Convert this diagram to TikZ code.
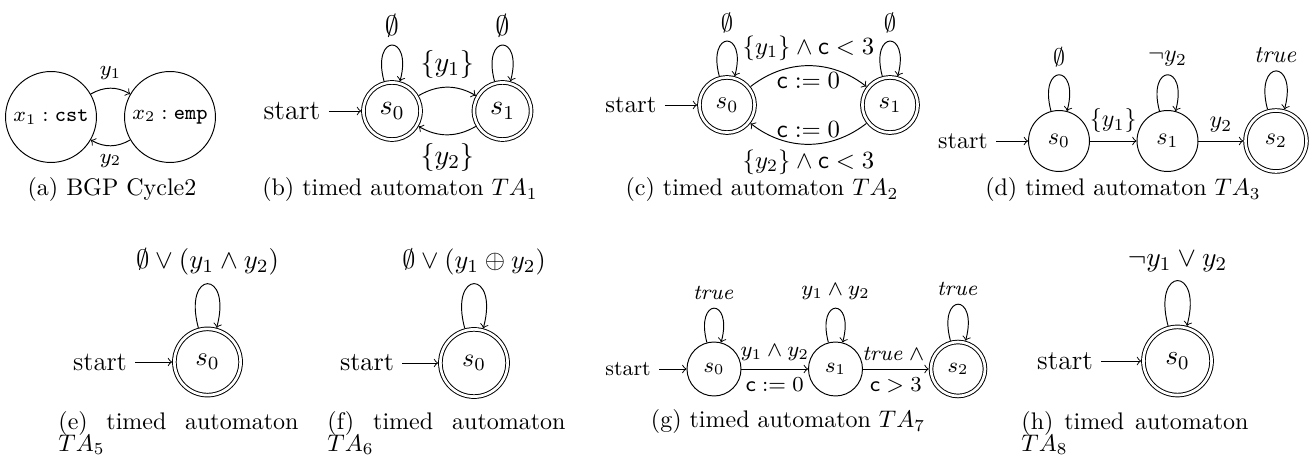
\RequirePackage{fix-cm}
\documentclass[tikz,border=0pt]{standalone}
\begin{document}
\begin{tikzpicture}[x=0.41667pt,y=0.41667pt,line width=0.4pt,
  st/.style={circle,draw,inner sep=0pt},
  acc/.style={st,double,double distance=1.1pt,outer sep=0.95pt},
  capt/.style={font=\fontsize{10}{12}\selectfont, inner sep=0pt},
  capj/.style={inner sep=0pt, text width=#1, align=justify, anchor=north west,
    font={\fontsize{10}{9}\selectfont\lineskiplimit=-10pt\tolerance=10000\hyphenpenalty=10000\parindent=0pt}},
  lp/.style={out=105,in=75,looseness=#1}]
\fill[white] (0,0) rectangle (1313,-458);
\path[use as bounding box] (0,0) rectangle (1313,-458);

% (a)
\begin{scope}[font=\fontsize{8.8}{10}\selectfont]
\node[st,minimum size=37.9pt] (a1) at (51,-117) {$x_1:\mathtt{cst}$};
\node[st,minimum size=37.9pt] (a2) at (170,-117) {$x_2:\mathtt{emp}$};
\draw[->] (a1) to[bend left=30] node[above] (ay1) {$y_1$} (a2);
\draw[->] (a2) to[bend left=30] node[below] (ay2) {$y_2$} (a1);
\end{scope}
\node[capt,anchor=base] (capa) at (112,-196) {(a) BGP Cycle2};

% (b)
\begin{scope}[font=\fontsize{11.7}{14}\selectfont]
\node[acc,minimum size=23.8pt] (b0) at (392,-111) {$s_0$};
\node[acc,minimum size=23.8pt] (b1) at (502.5,-111) {$s_1$};
\node (bs) at (292,-111) {start};
\draw[->] (bs) -- (b0);
\draw[->] (b0) to[lp=8] node[above] (bl0) {$\emptyset$} (b0);
\draw[->] (b1) to[lp=8] node[above] (bl1) {$\emptyset$} (b1);
\draw[->] (b0) to[bend left=30] node[above] (be1) {$\{y_1\}$} (b1);
\draw[->] (b1) to[bend left=30] node[below] (be2) {$\{y_2\}$} (b0);
\end{scope}
\node[capt,anchor=base] (capb) at (400,-196) {(b) timed automaton $TA_1$};

% (c)
\begin{scope}[font=\fontsize{10.3}{12}\selectfont]
\node[acc,minimum size=23pt] (c0) at (727,-105) {$s_0$};
\node[acc,minimum size=23pt] (c1) at (890,-105) {$s_1$};
\node (cs) at (631,-105) {start};
\draw[->] (cs) -- (c0);
\draw[->] (c0) to[lp=8] node[above] (cl0) {$\emptyset$} (c0);
\draw[->] (c1) to[lp=8] node[above] (cl1) {$\emptyset$} (c1);
\draw[->] (c0) to[bend left=38] node[above,inner sep=2pt] (ce1) {$\{y_1\}\wedge\mathsf{c}<3$} node[below,inner sep=2.5pt] (ce2) {$\mathsf{c}:=0$} (c1);
\draw[->] (c1) to[bend left=38] node[above,inner sep=2.5pt] (ce3) {$\mathsf{c}:=0$} node[below,inner sep=2pt] (ce4) {$\{y_2\}\wedge\mathsf{c}<3$} (c0);
\end{scope}
\node[capt,anchor=base] (capc) at (762,-196) {(c) timed automaton $TA_2$};

% (d)
\begin{scope}[font=\fontsize{10}{12}\selectfont]
\node[st,minimum size=25.4pt] (d0) at (1059,-141) {$s_0$};
\node[st,minimum size=25.4pt] (d1) at (1167.5,-141) {$s_1$};
\node[acc,minimum size=25.4pt] (d2) at (1276,-141) {$s_2$};
\node (ds) at (963,-141) {start};
\draw[->] (ds) -- (d0);
\draw[->] (d0) to[lp=8] node[above] (dl0) {$\emptyset$} (d0);
\draw[->] (d1) to[lp=8] node[above] (dl1) {$\neg y_2$} (d1);
\draw[->] (d2) to[lp=8] node[above] (dl2) {$\mathit{true}$} (d2);
\draw[->] (d0) -- node[above] (de1) {$\{y_1\}$} (d1);
\draw[->] (d1) -- node[above] (de2) {$y_2$} (d2);
\end{scope}
\node[capt,anchor=base] (capd) at (1123,-196) {(d) timed automaton $TA_3$};

% (e)
\begin{scope}[font=\fontsize{11.1}{13}\selectfont]
\node[acc,minimum size=27.6pt] (e0) at (207.5,-362) {$s_0$};
\node (es) at (100,-362) {start};
\draw[->] (es) -- (e0);
\draw[->] (e0) to[lp=8.5] node[above] (el0) {$\emptyset\vee(y_1\wedge y_2)$} (e0);
\end{scope}
\node[capj=100pt] (cape) at (58,-411) {(e) timed automaton $TA_5$};

% (f)
\begin{scope}[font=\fontsize{10.9}{13}\selectfont]
\node[acc,minimum size=28pt] (f0) at (474,-363) {$s_0$};
\node (fs) at (367,-363) {start};
\draw[->] (fs) -- (f0);
\draw[->] (f0) to[lp=8.5] node[above] (fl0) {$\emptyset\vee(y_1\oplus y_2)$} (f0);
\end{scope}
\node[capj=99.2pt] (capf) at (327,-411) {(f) timed automaton $TA_6$};

% (g)
\begin{scope}[font=\fontsize{8.9}{11}\selectfont]
\node[st,minimum size=22.5pt] (g0) at (714,-369) {$s_0$};
\node[st,minimum size=22.5pt] (g1) at (835.5,-369) {$s_1$};
\node[acc,minimum size=22.5pt] (g2) at (958,-369) {$s_2$};
\node (gs) at (628,-369) {start};
\draw[->] (gs) -- (g0);
\draw[->] (g0) to[lp=8.5] node[above] (gl0) {$\mathit{true}$} (g0);
\draw[->] (g1) to[lp=8.5] node[above] (gl1) {$y_1\wedge y_2$} (g1);
\draw[->] (g2) to[lp=8.5] node[above] (gl2) {$\mathit{true}$} (g2);
\draw[->] (g0) -- node[above] (ge1) {$y_1\wedge y_2$} node[below] (ge2) {$\mathsf{c}:=0$} (g1);
\draw[->] (g1) -- node[above] (ge3) {$\mathit{true}\wedge{}$} node[below] (ge4) {$\mathsf{c}>3$} (g2);
\end{scope}
\node[capt,anchor=base] (capg) at (788,-428) {(g) timed automaton $TA_7$};

% (h)
\begin{scope}[font=\fontsize{11.5}{14}\selectfont]
\node[acc,minimum size=28.4pt] (h0) at (1177.5,-361) {$s_0$};
\node (hs) at (1065,-361) {start};
\draw[->] (hs) -- (h0);
\draw[->] (h0) to[lp=8.5] node[above] (hl0) {$\neg y_1\vee y_2$} (h0);
\end{scope}
\node[capj=94.6pt] (caph) at (1021,-411) {(h) timed automaton $TA_8$};
\end{tikzpicture}
\end{document}
